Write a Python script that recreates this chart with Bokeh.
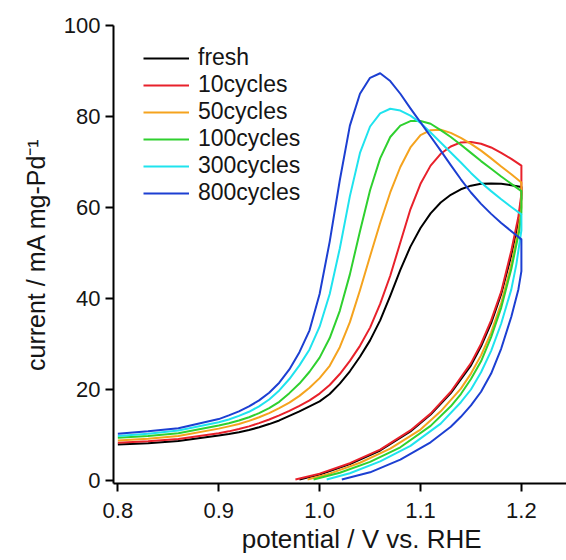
from bokeh.plotting import figure
from bokeh.models import Range1d, FixedTicker, Legend, LegendItem, NumeralTickFormatter
from bokeh.embed import file_html
from bokeh.resources import INLINE

# ---------------- data ----------------
series_names = ["fresh", "10cycles", "50cycles", "100cycles", "300cycles", "800cycles"]
series_colors = ["#000000", "#e8212b", "#f5a31e", "#2fd02f", "#1fe3ee", "#1c3fd2"]

x_tick_values = [0.8, 0.9, 1.0, 1.1, 1.2]
y_tick_values = [0, 20, 40, 60, 80, 100]

# forward (upper) scan, potential grid in V
fwd_x = [0.80, 0.83, 0.86, 0.90, 0.91, 0.92, 0.93, 0.94, 0.95, 0.96, 0.97, 0.98,
         0.99, 1.00, 1.01, 1.02, 1.03, 1.04, 1.05, 1.06, 1.07, 1.08, 1.09, 1.10,
         1.11, 1.12, 1.13, 1.14, 1.15, 1.16, 1.17, 1.18, 1.19, 1.20]

fwd_fresh = [7.9, 8.2, 8.7, 9.9, 10.2, 10.6, 11.1, 11.7, 12.4, 13.2, 14.2, 15.2,
             16.3, 17.4, 19.0, 21.3, 24.0, 27.2, 30.8, 35.2, 40.6, 46.3, 51.4, 55.5,
             58.7, 61.1, 62.8, 64.0, 64.8, 65.2, 65.3, 65.2, 64.9, 64.5]
fwd_10 = [8.3, 8.6, 9.1, 10.4, 10.8, 11.3, 11.9, 12.6, 13.4, 14.3, 15.3, 16.4,
          17.6, 19.1, 21.0, 23.4, 26.3, 29.6, 33.6, 38.8, 45.0, 52.3, 59.6, 65.2,
          69.2, 71.8, 73.4, 74.3, 74.4, 74.0, 73.2, 72.0, 70.7, 69.2]
fwd_50 = [8.8, 9.2, 9.8, 11.4, 11.9, 12.4, 13.1, 13.9, 14.8, 15.9, 17.1, 18.6,
          20.4, 22.5, 25.2, 29.3, 34.8, 41.8, 49.3, 56.6, 63.3, 68.9, 73.2, 75.9,
          77.0, 77.1, 76.4, 75.3, 74.0, 72.5, 70.8, 69.0, 67.3, 65.5]
fwd_100 = [9.4, 9.8, 10.4, 12.1, 12.6, 13.2, 13.9, 14.8, 15.9, 17.3, 19.2, 21.3,
           23.9, 27.0, 31.3, 37.3, 45.3, 54.8, 63.8, 70.8, 75.5, 78.0, 79.0, 79.0,
           78.4, 77.0, 75.5, 73.8, 72.0, 70.2, 68.5, 66.8, 65.2, 63.6]
fwd_300 = [9.8, 10.3, 11.0, 12.8, 13.4, 14.2, 15.1, 16.3, 17.8, 19.8, 22.3, 25.3,
           28.8, 33.8, 41.0, 51.0, 62.5, 72.0, 77.8, 80.7, 81.7, 81.3, 80.2, 78.6,
           76.5, 74.3, 72.1, 69.9, 67.6, 65.5, 63.6, 61.8, 60.1, 58.5]
fwd_800 = [10.3, 10.8, 11.5, 13.5, 14.3, 15.2, 16.3, 17.6, 19.3, 21.5, 24.4, 28.2,
           33.0, 41.0, 52.5, 66.0, 78.0, 85.0, 88.5, 89.5, 87.8, 85.0, 81.8, 78.7,
           75.6, 72.5, 69.3, 66.2, 63.3, 60.8, 58.6, 56.6, 54.8, 53.0]

# reverse (lower) scan, each series on its own potential points
low_x_fresh = [0.980, 1.00, 1.03, 1.06, 1.09, 1.11, 1.13, 1.15, 1.16, 1.17, 1.18, 1.19, 1.197, 1.20]
low_y_fresh = [0.2, 1.3, 3.6, 6.6, 10.8, 14.5, 19.2, 25.3, 29.5, 34.6, 41.0, 49.5, 57.0, 62.0]
low_x_10 = [0.976, 1.00, 1.03, 1.06, 1.09, 1.11, 1.13, 1.15, 1.16, 1.17, 1.18, 1.19, 1.197, 1.20]
low_y_10 = [0.2, 1.5, 3.8, 6.8, 11.0, 14.7, 19.5, 25.8, 30.0, 35.2, 41.5, 50.5, 58.0, 63.0]
low_x_50 = [0.988, 1.01, 1.04, 1.07, 1.10, 1.12, 1.14, 1.15, 1.16, 1.17, 1.18, 1.19, 1.197, 1.20]
low_y_50 = [0.2, 1.5, 3.9, 7.0, 11.2, 15.2, 20.2, 23.5, 27.5, 32.5, 39.0, 47.5, 55.0, 60.0]
low_x_100 = [0.994, 1.02, 1.05, 1.08, 1.11, 1.13, 1.14, 1.15, 1.16, 1.17, 1.18, 1.19, 1.198, 1.20]
low_y_100 = [0.2, 1.7, 4.1, 7.3, 12.0, 16.3, 19.0, 22.3, 26.2, 31.5, 38.0, 46.5, 55.0, 59.0]
low_x_300 = [1.007, 1.03, 1.06, 1.09, 1.12, 1.14, 1.15, 1.16, 1.17, 1.18, 1.19, 1.195, 1.20]
low_y_300 = [0.2, 1.6, 4.2, 7.6, 12.5, 17.2, 20.0, 23.8, 28.5, 34.5, 42.0, 47.5, 55.0]
low_x_800 = [1.022, 1.05, 1.08, 1.11, 1.13, 1.14, 1.15, 1.16, 1.17, 1.18, 1.19, 1.197, 1.20]
low_y_800 = [0.2, 1.8, 4.6, 8.4, 11.8, 14.0, 16.5, 19.5, 23.5, 29.0, 36.0, 42.0, 46.0]

fwd_all = [fwd_fresh, fwd_10, fwd_50, fwd_100, fwd_300, fwd_800]
low_x_all = [low_x_fresh, low_x_10, low_x_50, low_x_100, low_x_300, low_x_800]
low_y_all = [low_y_fresh, low_y_10, low_y_50, low_y_100, low_y_300, low_y_800]

# ---------------- figure ----------------
FONT = "Liberation Sans"
TXT = "#151515"

p = figure(width=566, height=560, output_backend="svg", toolbar_location=None,
           x_range=Range1d(0.7957, 1.2447), y_range=Range1d(-0.66, 100),
           min_border_left=113, min_border_right=0, min_border_top=25,
           min_border_bottom=77)
p.outline_line_color = None
p.xgrid.visible = False
p.ygrid.visible = False
p.background_fill_color = "white"
p.border_fill_color = "white"

renderers = []
for name, color, fy, lx, ly in zip(series_names, series_colors, fwd_all, low_x_all, low_y_all):
    xs = list(lx) + list(reversed(fwd_x))
    ys = list(ly) + list(reversed(fy))
    r = p.line(xs, ys, line_color=color, line_width=2, line_join="round")
    renderers.append((name, r))

for ax in (p.xaxis[0], p.yaxis[0]):
    ax.axis_line_width = 2
    ax.axis_line_color = "black"
    ax.major_tick_line_width = 2
    ax.major_tick_line_color = "black"
    ax.major_tick_out = 8
    ax.major_tick_in = 0
    ax.minor_tick_line_color = None
    ax.major_label_text_font = FONT
    ax.major_label_text_font_size = "22px"
    ax.major_label_text_color = TXT

p.xaxis.ticker = FixedTicker(ticks=x_tick_values)
p.xaxis.formatter = NumeralTickFormatter(format="0.0")
p.xaxis.major_label_standoff = 11
p.yaxis.ticker = FixedTicker(ticks=y_tick_values)
p.yaxis.major_label_standoff = 5

# x title: leading no-break spaces shift the centred label to the right
p.xaxis.axis_label = "\u00a0" * 6 + "potential / V vs. RHE"
p.xaxis.axis_label_text_font = FONT
p.xaxis.axis_label_text_font_size = "26px"
p.xaxis.axis_label_text_font_style = "normal"
p.xaxis.axis_label_text_color = TXT
p.xaxis.axis_label_standoff = 3

p.yaxis.axis_label = "current / mA mg-Pd\u207b\u00b9"
p.yaxis.axis_label_text_font = FONT
p.yaxis.axis_label_text_font_size = "25px"
p.yaxis.axis_label_text_font_style = "normal"
p.yaxis.axis_label_text_color = TXT
p.yaxis.axis_label_standoff = 11

legend = Legend(items=[LegendItem(label=n, renderers=[r]) for n, r in renderers],
                location=(30, 277), padding=0, margin=0, spacing=0,
                glyph_width=46, glyph_height=20, label_height=20,
                label_standoff=9, label_text_font=FONT,
                label_text_font_size="23px", label_text_color=TXT,
                border_line_color=None, background_fill_alpha=0)
p.add_layout(legend)

open("out.html", "w").write(file_html(p, INLINE))
